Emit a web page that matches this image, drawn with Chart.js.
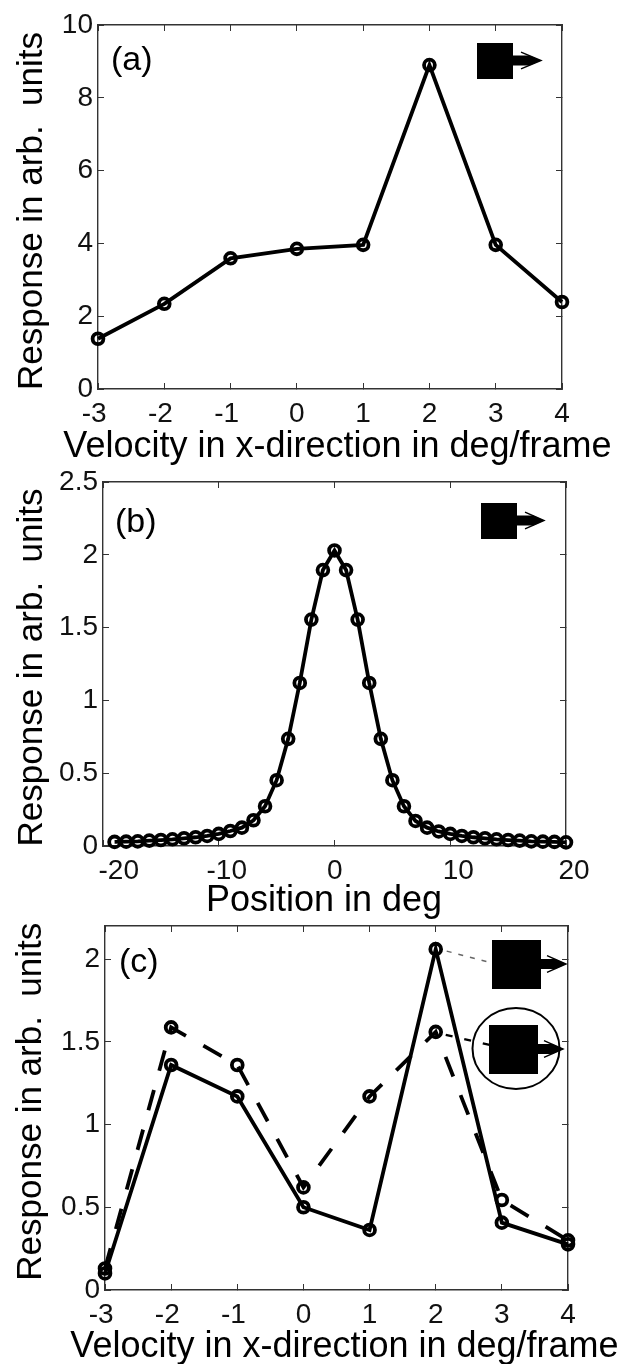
<!DOCTYPE html>
<html>
<head>
<meta charset="utf-8">
<title>Response curves</title>
<script src="https://cdn.jsdelivr.net/npm/chart.js@4"></script>
<style>
    html, body { margin: 0; padding: 0; background: #fff; }
    body { width: 623px; height: 1364px; position: relative; overflow: hidden; }
    canvas { position: absolute; left: 0; }
</style>
</head>
<body>
<canvas id="panelA" width="623" height="470" style="top:0"></canvas>
<canvas id="panelB" width="623" height="450" style="top:470px"></canvas>
<canvas id="panelC" width="623" height="449" style="top:915px"></canvas>
<script>
// values
const velocities = [-3, -2, -1, 0, 1, 2, 3, 4];
const responseA = [1.38, 2.34, 3.59, 3.85, 3.96, 8.9, 3.96, 2.39];

const positions = [-19, -18, -17, -16, -15, -14, -13, -12, -11, -10, -9, -8, -7, -6, -5, -4, -3, -2, -1, 0,
    1, 2, 3, 4, 5, 6, 7, 8, 9, 10, 11, 12, 13, 14, 15, 16, 17, 18, 19, 20];
const responseB = [0.028, 0.03, 0.032, 0.037, 0.041, 0.046, 0.053, 0.06, 0.069, 0.083, 0.103, 0.126, 0.177, 0.273, 0.452, 0.736, 1.12, 1.555, 1.895, 2.03,
    1.895, 1.555, 1.12, 0.736, 0.452, 0.273, 0.172, 0.126, 0.1, 0.083, 0.069, 0.06, 0.053, 0.046, 0.041, 0.037, 0.032, 0.03, 0.028, 0.025];

const responseSolid = [0.1, 1.36, 1.17, 0.5, 0.363, 2.06, 0.407, 0.276];
const responseDashed = [0.13, 1.587, 1.36, 0.62, 1.17, 1.56, 0.544, 0.3];

const ticksXA = [-3, -2, -1, 0, 1, 2, 3, 4];
const ticksYA = [0, 2, 4, 6, 8, 10];
const ticksXB = [-20, -10, 0, 10, 20];
const ticksYB = [0, 0.5, 1, 1.5, 2, 2.5];
const ticksXC = [-3, -2, -1, 0, 1, 2, 3, 4];
const ticksYC = [0, 0.5, 1, 1.5, 2];

const yTitle = 'Response in arb.  units';
const velocityTitle = 'Velocity in x-direction in deg/frame';
const positionTitle = 'Position in deg';

const fontName = '"Liberation Sans", Arial, sans-serif';
const axisColor = '#333';

function toPoints(xs, ys) {
    return xs.map((x, i) => ({ x: x, y: ys[i] }));
}

function curve(xs, ys, dash) {
    return {
        data: toPoints(xs, ys),
        borderColor: '#000',
        borderWidth: 3.8,
        borderDash: dash || [],
        backgroundColor: 'transparent',
        pointRadius: 5.4,
        pointBorderWidth: 3.8,
        pointBorderColor: '#000',
        pointBackgroundColor: 'transparent',
        clip: false
    };
}

// the black square with its arrow, x and y are the top left corner of the square
function drawStimulus(ctx, x, y, size, tipX) {
    const midY = y + size / 2 - 0.5;
    const headX = x + size + (size > 40 ? 6 : 8);
    ctx.fillStyle = '#000';
    ctx.strokeStyle = '#000';
    ctx.fillRect(x, y, size, size);
    ctx.fillRect(x + size, midY - 5, headX - x - size + 8, 10);
    ctx.beginPath();
    ctx.moveTo(tipX, midY);
    ctx.lineTo(headX + 8, midY - 5.3);
    ctx.lineTo(headX + 8, midY + 5.3);
    ctx.closePath();
    ctx.fill();
    // thin barbs of the arrow head
    ctx.lineWidth = 1.4;
    ctx.beginPath();
    ctx.moveTo(headX, midY - 8.3);
    ctx.lineTo(tipX, midY);
    ctx.lineTo(headX, midY + 8.3);
    ctx.stroke();
}

function makePanel(id, cfg) {
    const canvas = document.getElementById(id);
    const tickFont = { family: fontName, size: 28 };
    const innerTick = { drawOnChartArea: false, tickLength: -6, tickColor: axisColor, tickWidth: 1 };
    const border = { color: axisColor, width: 1.4 };
    const noPadding = s => { s.paddingTop = s.paddingBottom = s.paddingLeft = s.paddingRight = 0; };
    // axis titles are wider than the plot, the scale title option would squeeze them
    const decorate = {
        id: 'decorate',
        afterDatasetsDraw(chart) {
            const ctx = chart.ctx;
            ctx.save();
            ctx.fillStyle = '#000';
            ctx.textBaseline = 'alphabetic';
            ctx.textAlign = 'center';
            ctx.font = '36px ' + fontName;
            ctx.fillText(cfg.xTitle, cfg.xTitleAt[0], cfg.xTitleAt[1]);
            ctx.save();
            ctx.translate(cfg.yTitleAt[0], cfg.yTitleAt[1]);
            ctx.rotate(-Math.PI / 2);
            ctx.font = '35px ' + fontName;
            ctx.fillText(yTitle, 0, 0);
            ctx.restore();
            ctx.font = '34px ' + fontName;
            ctx.textAlign = 'left';
            ctx.textBaseline = 'middle';
            ctx.fillText(cfg.letter, chart.chartArea.left + cfg.letterAt[0], chart.chartArea.top + cfg.letterAt[1]);
            cfg.draw(ctx, chart);
            ctx.restore();
        }
    };
    return new Chart(canvas, {
        type: 'line',
        data: { datasets: cfg.datasets },
        options: {
            responsive: false,
            animation: false,
            events: [],
            layout: { padding: { top: cfg.box.top, right: 623 - cfg.box.right, left: 0, bottom: 0 } },
            plugins: { legend: { display: false }, tooltip: { enabled: false } },
            scales: {
                x: {
                    type: 'linear',
                    position: 'bottom',
                    min: cfg.xTicks[0],
                    max: cfg.xTicks[cfg.xTicks.length - 1],
                    afterBuildTicks: s => { s.ticks = cfg.xTicks.map(v => ({ value: v })); },
                    afterFit: s => { s.height = canvas.height - cfg.box.bottom; noPadding(s); },
                    grid: innerTick,
                    border: border,
                    ticks: { font: tickFont, color: '#111', padding: 8 + 6, maxRotation: 0, autoSkip: false, labelOffset: cfg.labelOffset, callback: cfg.tickText }
                },
                y: {
                    type: 'linear',
                    position: 'left',
                    min: cfg.yMin,
                    max: cfg.yMax,
                    afterBuildTicks: s => { s.ticks = cfg.yTicks.map(v => ({ value: v })); },
                    afterFit: s => { s.width = cfg.box.left; noPadding(s); },
                    grid: innerTick,
                    border: border,
                    ticks: { font: tickFont, color: '#111', padding: 5 + 6, autoSkip: false, callback: v => String(v) }
                },
                x2: {
                    type: 'linear',
                    position: 'top',
                    min: cfg.xTicks[0],
                    max: cfg.xTicks[cfg.xTicks.length - 1],
                    afterBuildTicks: s => { s.ticks = cfg.xTicks.map(v => ({ value: v })); },
                    afterFit: s => { s.height = 0; noPadding(s); },
                    grid: innerTick,
                    border: border,
                    ticks: { display: false }
                },
                y2: {
                    type: 'linear',
                    position: 'right',
                    min: cfg.yMin,
                    max: cfg.yMax,
                    afterBuildTicks: s => { s.ticks = cfg.yTicks.map(v => ({ value: v })); },
                    afterFit: s => { s.width = 0; noPadding(s); },
                    grid: innerTick,
                    border: border,
                    ticks: { display: false }
                }
            }
        },
        plugins: [decorate]
    });
}

// negative labels sit a little left of their tick in the original
const shiftNegative = v => (v < 0 ? v + ' ' : String(v));

makePanel('panelA', {
    box: { left: 98, right: 562, top: 25, bottom: 389 },
    datasets: [curve(velocities, responseA)],
    xTicks: ticksXA, yTicks: ticksYA, yMin: 0, yMax: 10,
    xTitle: velocityTitle, xTitleAt: [337.5, 457], yTitleAt: [42, 211], labelOffset: 0, tickText: shiftNegative,
    letter: '(a)', letterAt: [13, 36],
    draw(ctx, chart) {
        drawStimulus(ctx, chart.chartArea.left + 379, chart.chartArea.top + 18, 36, chart.chartArea.left + 443);
    }
});

makePanel('panelB', {
    box: { left: 103, right: 566, top: 12, bottom: 376 },
    datasets: [curve(positions, responseB)],
    xTicks: ticksXB, yTicks: ticksYB, yMin: 0, yMax: 2.5,
    xTitle: positionTitle, xTitleAt: [324, 441], yTitleAt: [42, 197.5], labelOffset: 8,
    tickText: v => (v === 0 ? '0  ' : v === -20 ? '  -20' : String(v)),
    letter: '(b)', letterAt: [12, 41],
    draw(ctx, chart) {
        drawStimulus(ctx, chart.chartArea.left + 378, chart.chartArea.top + 21, 36, chart.chartArea.left + 441);
    }
});

makePanel('panelC', {
    box: { left: 105, right: 568, top: 11, bottom: 375 },
    datasets: [curve(velocities, responseSolid), curve(velocities, responseDashed, [21, 20])],
    xTicks: ticksXC, yTicks: ticksYC, yMin: 0, yMax: 2.2,
    xTitle: velocityTitle, xTitleAt: [344.5, 442], yTitleAt: [41, 186.7], labelOffset: 0, tickText: shiftNegative,
    letter: '(c)', letterAt: [14, 37],
    draw(ctx, chart) {
        const a = chart.chartArea;
        const solidPeak = chart.getDatasetMeta(0).data[5];
        const dashedPeak = chart.getDatasetMeta(1).data[5];
        // dotted and dashed leaders from the peak points to the two stimuli
        ctx.strokeStyle = '#666';
        ctx.lineWidth = 1.4;
        ctx.setLineDash([5, 7]);
        ctx.beginPath();
        ctx.moveTo(solidPeak.x + 11, solidPeak.y + 2);
        ctx.lineTo(a.left + 387, a.top + 37);
        ctx.stroke();
        ctx.strokeStyle = '#000';
        ctx.lineWidth = 2.4;
        ctx.setLineDash([7, 12]);
        ctx.beginPath();
        ctx.moveTo(dashedPeak.x + 10, dashedPeak.y + 3);
        ctx.lineTo(a.left + 385, a.top + 119);
        ctx.stroke();
        ctx.setLineDash([]);
        drawStimulus(ctx, a.left + 387, a.top + 14, 49, a.left + 461);
        drawStimulus(ctx, a.left + 384, a.top + 99, 49, a.left + 458);
        // ring around the second stimulus
        ctx.lineWidth = 2;
        ctx.beginPath();
        ctx.ellipse(a.left + 411, a.top + 122.5, 43.5, 40.5, 0, 0, Math.PI * 2);
        ctx.stroke();
    }
});
</script>
</body>
</html>
